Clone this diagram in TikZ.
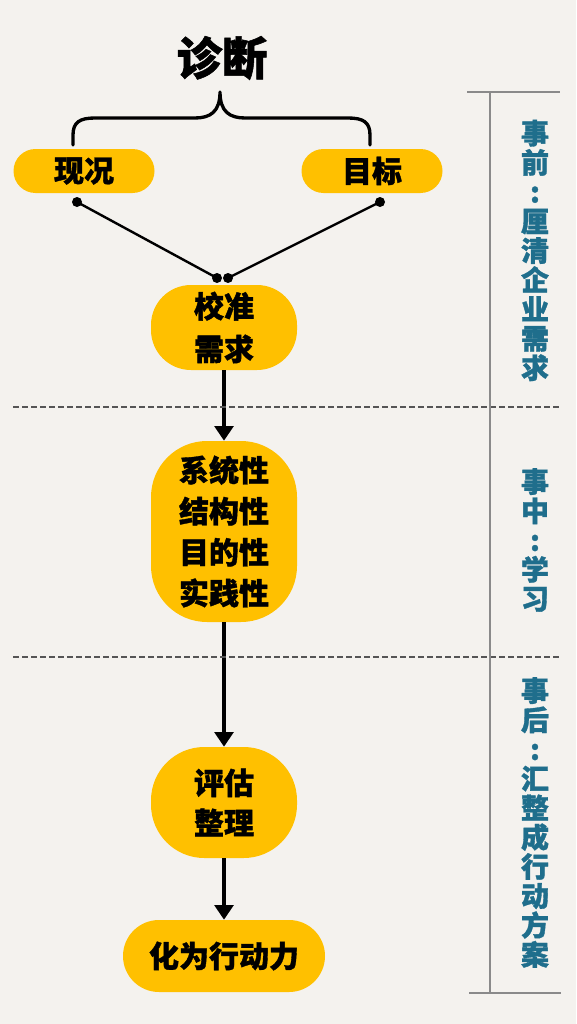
\documentclass[tikz,border=0pt]{standalone}
\usepackage{fontspec}
\newfontfamily\cjk{Noto Sans CJK SC}[BoldFeatures={FakeBold=1.2}]
\usetikzlibrary{arrows.meta}
\definecolor{bg}{HTML}{F4F2EE}
\definecolor{gold}{HTML}{FFC000}
\definecolor{sideblue}{HTML}{1F6E8C}
\definecolor{dashgray}{HTML}{555555}
\definecolor{linegray}{HTML}{8A8A8A}
\begin{document}
\begin{tikzpicture}[x=0.75pt,y=-0.75pt,
  box/.style={fill=gold, draw=none, inner sep=0pt, align=center, text=black,
    font=\cjk\bfseries\fontsize{22.5pt}{31pt}\selectfont},
  conn/.style={line width=1.8pt, black},
  arr/.style={line width=2.8pt, black, -{Triangle[width=14pt,length=11pt]}},
  dashline/.style={dashgray, line width=0.9pt, dash pattern=on 4.5pt off 2.25pt},
  rline/.style={linegray, line width=1.1pt},
  side/.style={text=sideblue, align=center, inner sep=0pt,
    font=\cjk\bfseries\fontsize{21pt}{22pt}\selectfont},
  dotc/.style={fill=black}]
\fill[bg] (0,0) rectangle (576,1024);
\useasboundingbox (0,0) rectangle (576,1024);

% title and brace
\node[font=\cjk\bfseries\fontsize{34pt}{34pt}\selectfont, inner sep=0pt] (title) at (222,58) {诊断};
\draw[line width=2.5pt, line cap=round, line join=round]
  (73,145) -- (73,135) .. controls (73,122) and (80,118) .. (95,118)
  -- (195,118) .. controls (210,118) and (220,112) .. (220,92)
  .. controls (220,112) and (230,118) .. (245,118)
  -- (348,118) .. controls (363,118) and (370,122) .. (370,135) -- (370,145);

% nodes
\node[box, minimum width=105.75pt, minimum height=33pt, rounded corners=16.5pt] (xk) at (84,171) {现况};
\node[box, minimum width=105.75pt, minimum height=33pt, rounded corners=16.5pt] (mb) at (372,171) {目标};
\node[box, minimum width=109.5pt, minimum height=63.75pt, rounded corners=30pt,
  font=\cjk\bfseries\fontsize{22.5pt}{32pt}\selectfont] (jz) at (224,327.5) {校准\\需求};
\node[box, minimum width=109.5pt, minimum height=135.75pt, rounded corners=42pt,
  font=\cjk\bfseries\fontsize{22.5pt}{30.75pt}\selectfont] (xt) at (224,531.5) {系统性\\结构性\\目的性\\实践性};
\node[box, minimum width=109.5pt, minimum height=83.25pt, rounded corners=40pt,
  font=\cjk\bfseries\fontsize{22.5pt}{30pt}\selectfont] (pg) at (224,802.5) {评估\\整理};
\node[box, minimum width=151.5pt, minimum height=54pt, rounded corners=27pt] (hw) at (224,956) {化为行动力};

% converging connectors
\coordinate (a1) at (77,202);
\coordinate (b1) at (380,202);
\coordinate (a2) at (217,278);
\coordinate (b2) at (228,278);
\draw[conn] (a1) -- (a2);
\draw[conn] (b1) -- (b2);
\foreach \p in {a1,b1,a2,b2} \fill[dotc] (\p) circle[radius=3.75pt];

% arrows
\draw[arr] (jz) -- (xt);
\draw[arr] (xt) -- (pg);
\draw[arr] (pg) -- (hw);

% separators
\draw[dashline] (13,407) -- (560,407);
\draw[dashline] (13,657) -- (560,657);
\draw[rline] (467,92) -- (560,92);
\draw[rline] (490,92) -- (490,993);
\draw[rline] (469,993) -- (561,993);

% side labels
\node[side] (s1) at (535,250.5) {事\\前\\:\\厘\\清\\企\\业\\需\\求};
\node[side] (s2) at (535,540) {事\\中\\:\\学\\习};
\node[side] (s3) at (535,822.5) {事\\后\\:\\汇\\整\\成\\行\\动\\方\\案};
\end{tikzpicture}
\end{document}
